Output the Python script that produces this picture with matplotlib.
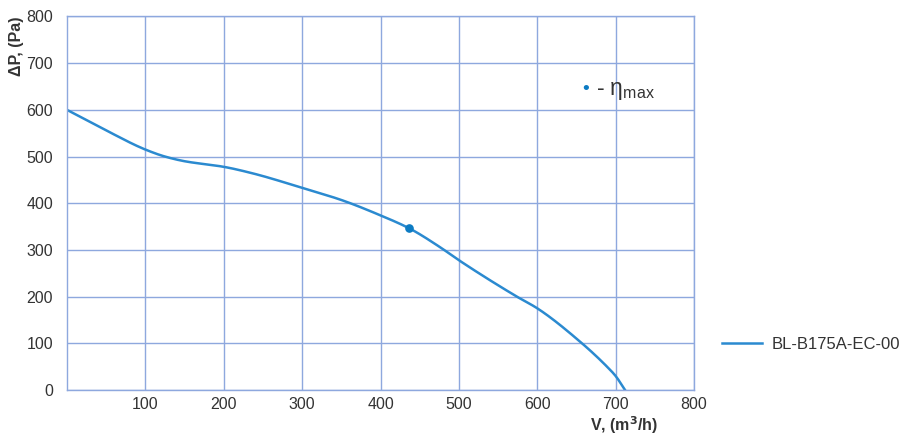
import numpy as np
import matplotlib
matplotlib.use("Agg")
import matplotlib.pyplot as plt

plt.rcParams['font.family'] = ['Liberation Sans', 'DejaVu Sans']

# Data
flow = [0, 50, 100, 125, 150, 200, 237, 300, 350, 400, 437, 475, 500, 574, 600, 655, 689, 700, 712]
pressure = [600, 556, 515, 500, 490, 478, 464, 433, 407, 374, 346, 307, 278, 200, 175, 103, 50, 30, 0]
eta_max = (437, 346)
x_ticks = [100, 200, 300, 400, 500, 600, 700, 800]
y_ticks = [0, 100, 200, 300, 400, 500, 600, 700, 800]
series_name = "BL-B175A-EC-00"


def pchip(x, y, xs):
    x = np.asarray(x, float); y = np.asarray(y, float)
    h = np.diff(x); d = np.diff(y) / h
    m = np.zeros_like(y)
    for k in range(1, len(x) - 1):
        if d[k-1] * d[k] > 0:
            w1 = 2*h[k] + h[k-1]; w2 = h[k] + 2*h[k-1]
            m[k] = (w1 + w2) / (w1/d[k-1] + w2/d[k])
    m[0] = d[0]; m[-1] = d[-1]
    idx = np.clip(np.searchsorted(x, xs) - 1, 0, len(h) - 1)
    t = (xs - x[idx]) / h[idx]
    h00 = 2*t**3 - 3*t**2 + 1; h10 = t**3 - 2*t**2 + t
    h01 = -2*t**3 + 3*t**2; h11 = t**3 - t**2
    return h00*y[idx] + h10*h[idx]*m[idx] + h01*y[idx+1] + h11*h[idx]*m[idx+1]


grid_c = '#8ea8de'
line_c = '#2b8ad0'
text_c = '#333333'

fig = plt.figure(figsize=(9.01, 4.36), dpi=100)
ax = fig.add_axes([67/901, 1-390/436, (694-67)/901, (390-16.5)/436])

xs = np.linspace(flow[0], flow[-1], 400)
ax.plot(xs, pchip(flow, pressure, xs), color=line_c, lw=1.8, label=series_name)
ax.plot([eta_max[0]], [eta_max[1]], 'o', color='#0c7bc3', ms=5.2, zorder=5)

ax.set_xlim(0, 800)
ax.set_ylim(0, 800)
ax.set_xticks(x_ticks)
ax.set_yticks(y_ticks)
ax.grid(True, color=grid_c, lw=1.0)
ax.set_axisbelow(True)
for s in ax.spines.values():
    s.set_color(grid_c)
    s.set_linewidth(1.0)
ax.tick_params(length=0, labelsize=11.5, colors=text_c)
ax.tick_params(axis='y', pad=10)
ax.tick_params(axis='x', pad=5)

fig.text(16/901, 1-46/436, 'ΔP, (Pa)', rotation=90, fontsize=11.5, fontweight='bold',
         color=text_c, ha='center', va='center')
fig.text(624/901, 1-425/436, 'V, (m$^\\mathbf{3}$/h)', fontsize=11.5, fontweight='bold',
         color=text_c, ha='center', va='center')

# eta max annotation
fig.text(582/901, 1-90/436, '•', fontsize=14, color='#0c7bc3', ha='left', va='center')
fig.text(596/901, 1-90/436, '- η$_{\\mathregular{max}}$', fontsize=16.5, color=text_c,
         ha='left', va='center')

# legend outside right
fig.legend(loc='center left', bbox_to_anchor=(722/901, 1-344/436), frameon=False,
           fontsize=12, handlelength=2.4, handletextpad=0.6, labelcolor=text_c,
           borderaxespad=0, borderpad=0)

fig.savefig('out.png', dpi=100)
